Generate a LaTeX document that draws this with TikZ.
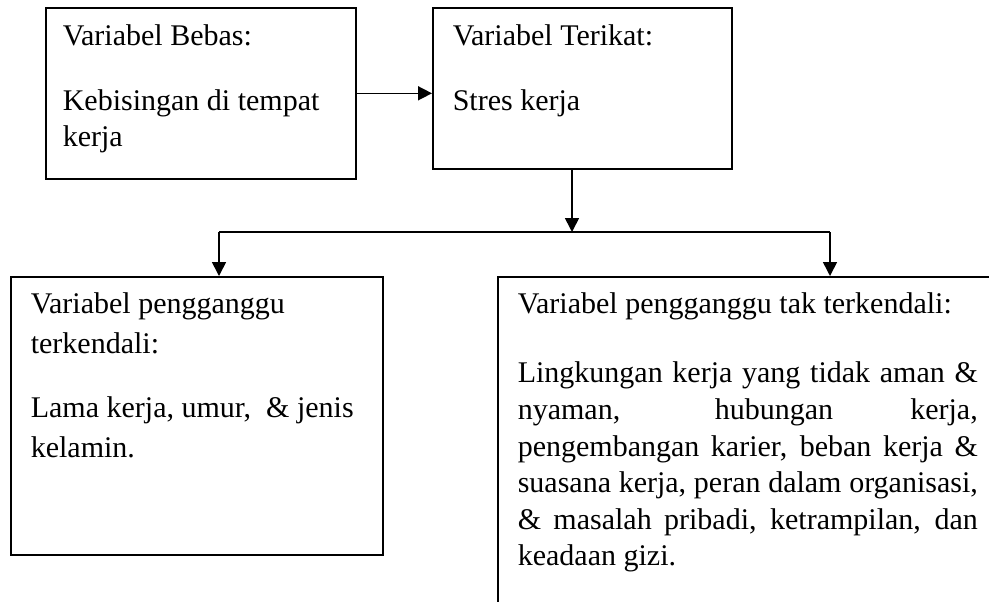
\documentclass[tikz,border=0pt]{standalone}
\usepackage{fontspec}
\setmainfont{Liberation Serif}
\usetikzlibrary{arrows.meta}

\tikzset{
	kotak/.style={draw,line width=0.8pt,anchor=north west,inner xsep=10pt,inner ysep=0pt},
	garis/.style={line width=0.8pt},
}
\newcommand{\isi}[3]{\begin{minipage}[t][#2][t]{#1}\fontsize{15}{18}\selectfont#3\end{minipage}}

\begin{document}
\begin{tikzpicture}[>={Triangle[length=7pt,width=7pt]},x=0.5pt,y=-0.5pt]
		\clip (0,0) rectangle (989,601);
		\node[kotak,inner xsep=8.5pt] (bebas) at (45,7) {\isi{138pt}{85.5pt}{\setlength{\parskip}{14.5pt}\raggedright
			\rule{0pt}{19pt}Variabel Bebas:\par
			Kebisingan di tempat\\kerja}};
		\node[kotak] (terikat) at (432,7) {\isi{129.5pt}{80.5pt}{\setlength{\parskip}{14.5pt}\raggedright
			\rule{0pt}{19pt}Variabel Terikat:\par
			Stres kerja}};
		\node[kotak] (kendali) at (10,276) {\isi{166pt}{139pt}{\fontsize{15}{20}\selectfont\setlength{\parskip}{12pt}\raggedright
			\rule{0pt}{18.5pt}Variabel pengganggu\\terkendali:\par
			Lama kerja, umur, \ \& jenis\\kelamin.}};
		\node[kotak] (takkendali) at (497,276) {\isi{230pt}{170pt}{\fontsize{15}{18.3}\selectfont\setlength{\parskip}{16.2pt}\setlength{\parindent}{0pt}
			\rule{0pt}{18.5pt}Variabel pengganggu tak terkendali:\par
			\makebox[\linewidth][s]{Lingkungan kerja yang tidak aman \&}\\
			\makebox[\linewidth][s]{nyaman, hubungan kerja,}\\
			\makebox[\linewidth][s]{pengembangan karier, beban kerja \&}\\
			\makebox[\linewidth][s]{suasana kerja, peran dalam organisasi,}\\
			\makebox[\linewidth][s]{\& masalah pribadi, ketrampilan, dan}\\
			keadaan gizi.}};
		\coordinate (tengah) at (572,232);
		\coordinate (kiri) at (219,232);
		\coordinate (kanan) at (830,232);
		\draw[garis,->] (bebas.east) -- (bebas.east -| terikat.west);
		\draw[garis,->] (terikat.south -| tengah) -- (tengah);
		\draw[garis] (kiri) -- (kanan);
		\draw[garis,->] (kiri) -- (kiri |- kendali.north);
		\draw[garis,->] (kanan) -- (kanan |- takkendali.north);
\end{tikzpicture}
\end{document}
